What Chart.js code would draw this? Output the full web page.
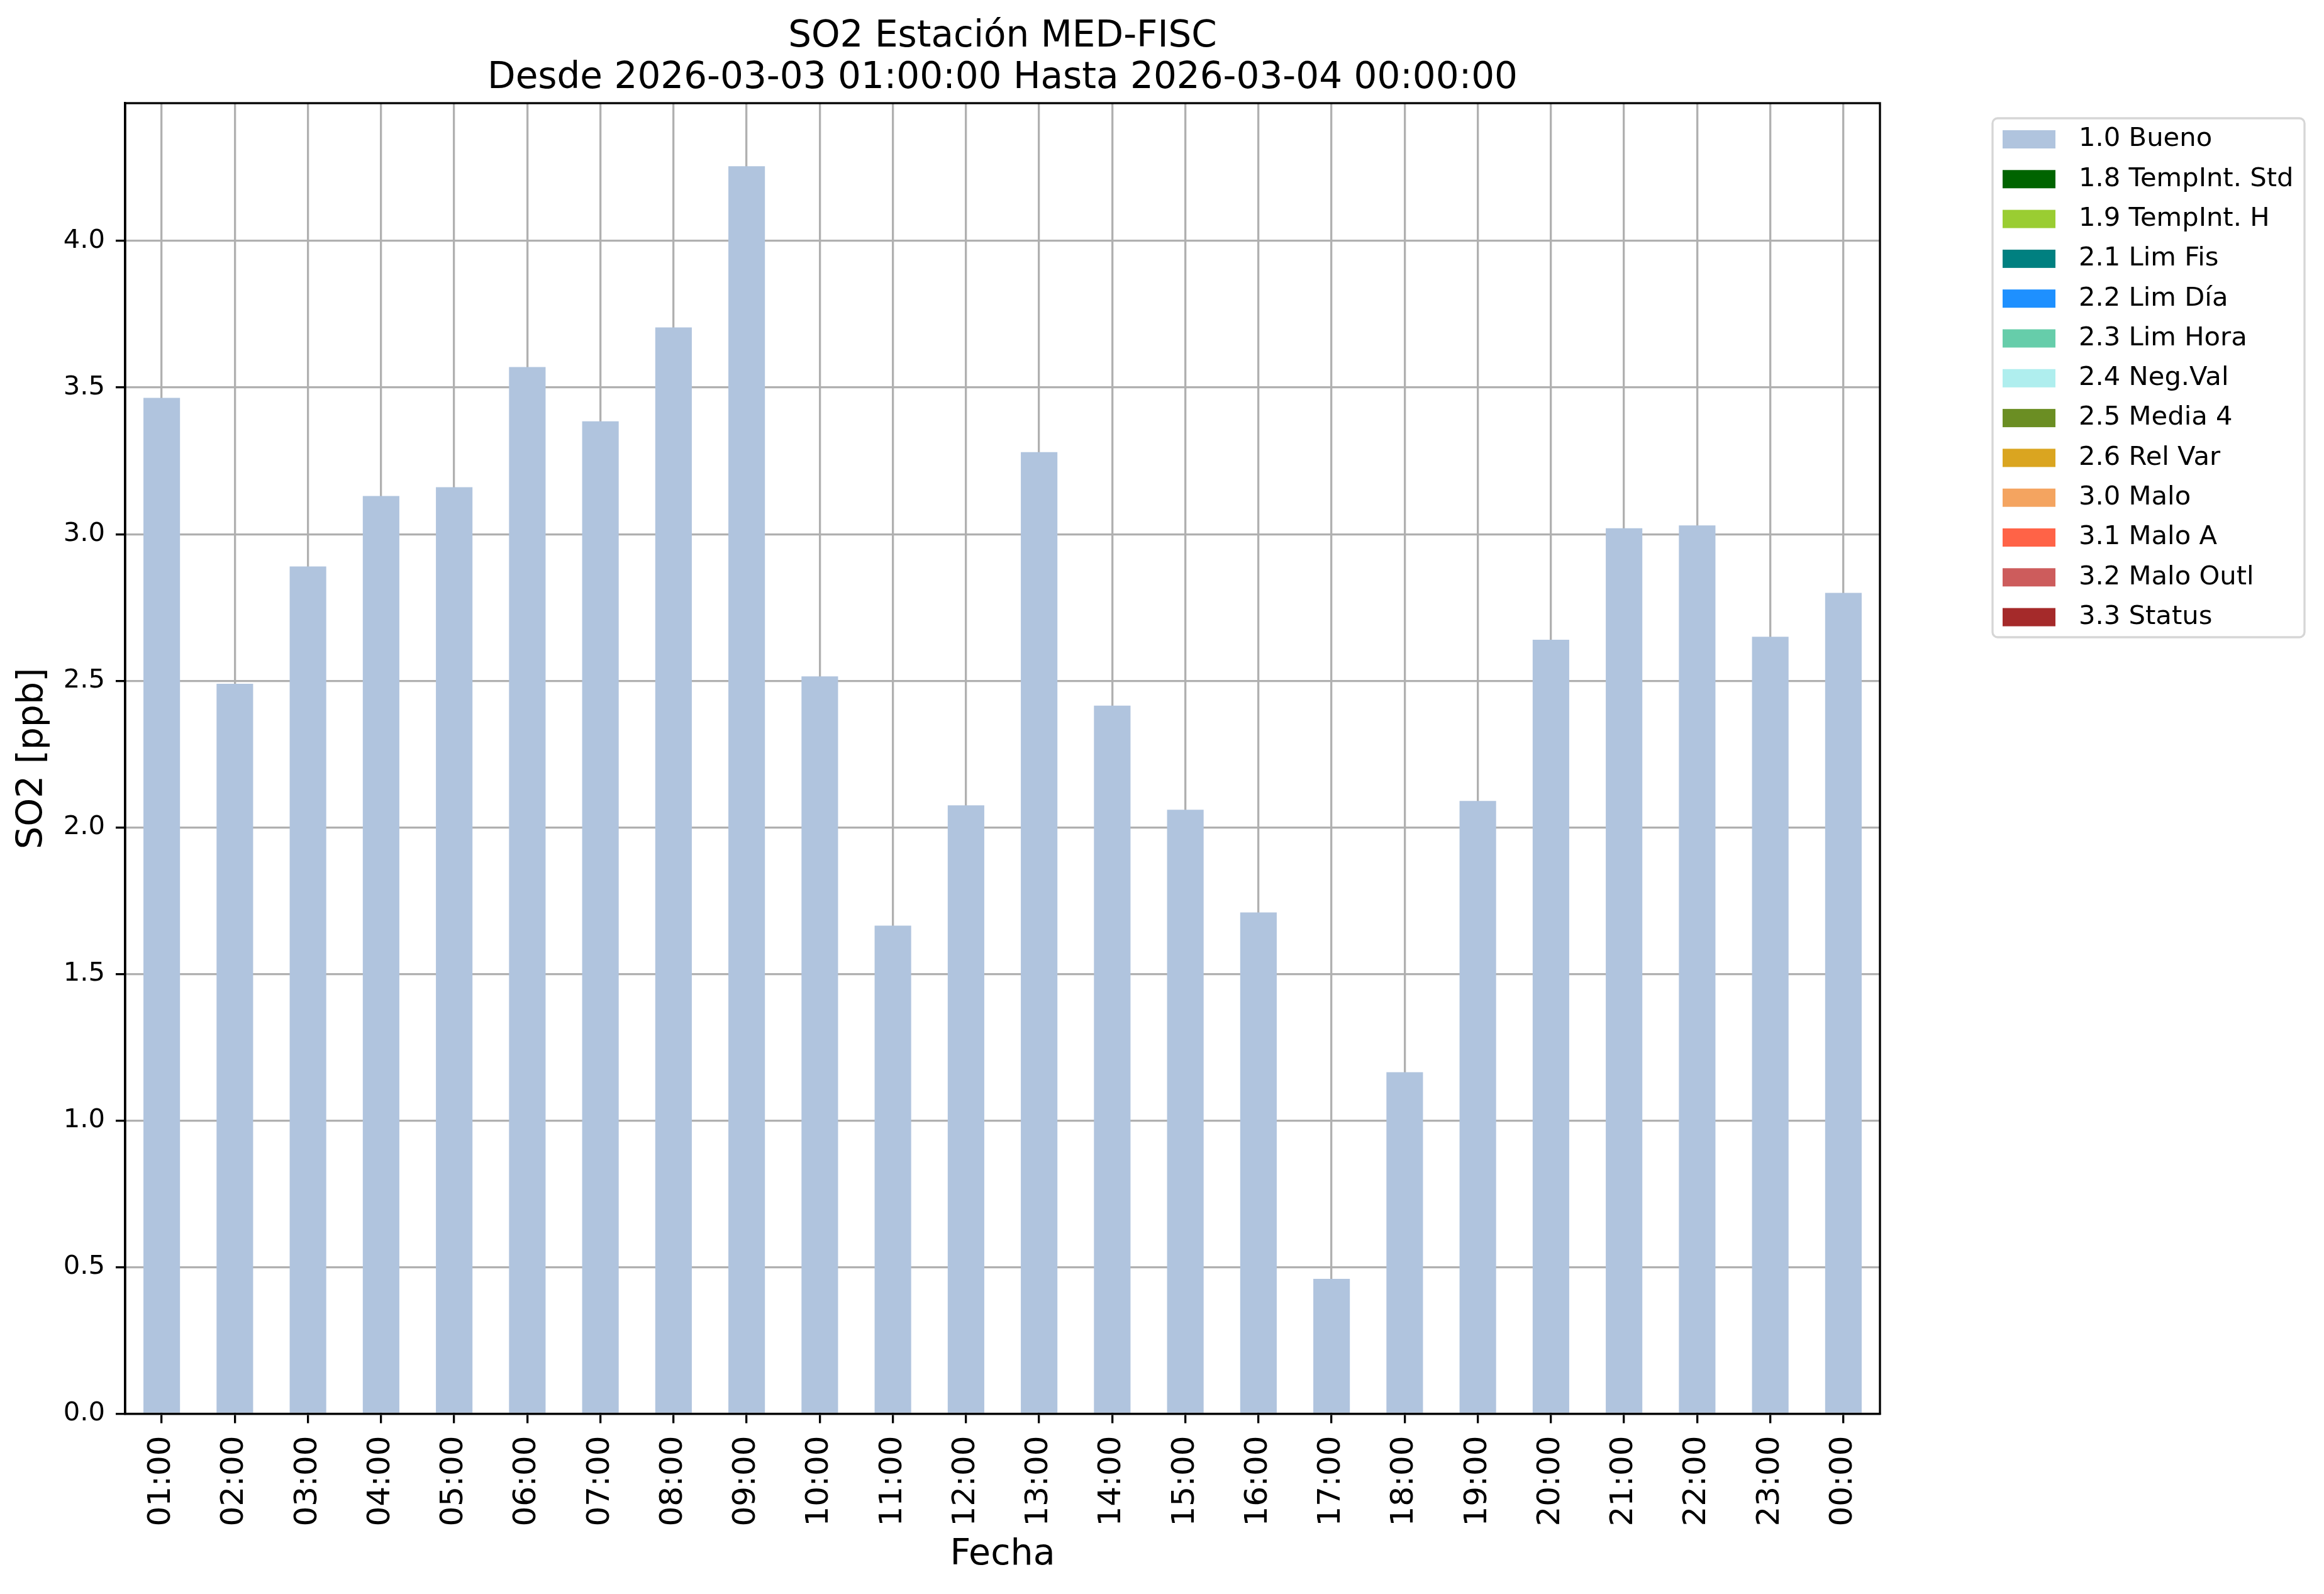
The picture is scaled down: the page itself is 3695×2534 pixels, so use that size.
<!DOCTYPE html>
<html>
<head>
<meta charset="utf-8">
<script src="https://cdn.jsdelivr.net/npm/chart.js@4"></script>
<style>
body{margin:0;background:#fff;}
canvas{display:block;}
</style>
</head>
<body>
<canvas id="so2Chart" width="3695" height="2534"></canvas>
<script>
// horas del dia (eje x)
const horas = ["01:00","02:00","03:00","04:00","05:00","06:00","07:00","08:00","09:00","10:00","11:00","12:00",
"13:00","14:00","15:00","16:00","17:00","18:00","19:00","20:00","21:00","22:00","23:00","00:00"];

// SO2 [ppb], flag 1.0 Bueno
const so2Bueno = [3.465,2.49,2.89,3.13,3.16,3.57,3.385,3.705,4.255,2.515,1.665,2.075,
3.28,2.415,2.06,1.71,0.46,1.165,2.09,2.64,3.02,3.03,2.65,2.80];

const flagLabels = ["1.0 Bueno","1.8 TempInt. Std","1.9 TempInt. H","2.1 Lim Fis","2.2 Lim Día","2.3 Lim Hora",
"2.4 Neg.Val","2.5 Media 4","2.6 Rel Var","3.0 Malo","3.1 Malo A","3.2 Malo Outl","3.3 Status"];
const flagColors = ["#b0c4de","#006400","#9acd32","#008080","#1e90ff","#66cdaa",
"#afeeee","#6b8e23","#daa520","#f4a460","#ff6347","#cd5c5c","#a52a2a"];

const yTicks = [0,0.5,1.0,1.5,2.0,2.5,3.0,3.5,4.0];
const titulo = ["SO2 Estación MED-FISC","Desde 2026-03-03 01:00:00 Hasta 2026-03-04 00:00:00"];

const FONT = "'DejaVu Sans', sans-serif";
Chart.defaults.font.family = FONT;
Chart.defaults.color = "#000";

const datasets = flagLabels.map((l,i)=>({
  label:l,
  data: i===0 ? so2Bueno : [],
  backgroundColor: flagColors[i],
  borderWidth:0,
  barPercentage:0.5,
  categoryPercentage:1.0
}));

// titulo, marco y leyenda al estilo matplotlib
const extras = {
  id:"extras",
  afterDraw(chart){
    const ctx = chart.ctx;
    const a = chart.chartArea;
    ctx.save();
    // marco
    ctx.strokeStyle = "#000";
    ctx.lineWidth = 3.3;
    ctx.strokeRect(a.left, a.top, a.right-a.left, a.bottom-a.top);

    // titulo
    ctx.fillStyle = "#000";
    ctx.font = "58px " + FONT;
    ctx.textAlign = "center";
    ctx.textBaseline = "alphabetic";
    const cx = (a.left+a.right)/2;
    ctx.fillText(titulo[0], cx, 74);
    ctx.fillText(titulo[1], cx, 140);

    // leyenda
    const bx = 3168, by = 188, bw = 496, bh = 825;
    ctx.beginPath();
    ctx.roundRect(bx, by, bw, bh, 8);
    ctx.fillStyle = "#fff";
    ctx.fill();
    ctx.strokeStyle = "#d6d6d6";
    ctx.lineWidth = 3.3;
    ctx.stroke();
    ctx.font = "41.7px " + FONT;
    ctx.textAlign = "left";
    ctx.textBaseline = "middle";
    chart.data.datasets.forEach((d,i)=>{
      const y = 221.5 + i*63.3;
      ctx.fillStyle = d.backgroundColor;
      ctx.fillRect(3184, y-14.5, 84, 29);
      ctx.fillStyle = "#000";
      ctx.fillText(d.label, 3305, y);
    });
    ctx.restore();
  }
};

new Chart(document.getElementById("so2Chart"),{
  type:"bar",
  data:{labels:horas, datasets:datasets},
  options:{
    responsive:false,
    animation:false,
    devicePixelRatio:1,
    layout:{padding:{top:164,right:706,left:0,bottom:0}},
    plugins:{legend:{display:false},title:{display:false},tooltip:{enabled:false}},
    scales:{
      x:{
        stacked:true,
        z:1,
        afterFit(s){ s.height = 286.5; },
        grid:{offset:false,color:"#b0b0b0",lineWidth:3.3,tickColor:"#000",tickWidth:3.3,tickLength:15},
        border:{color:"#000",width:3.3},
        ticks:{minRotation:90,maxRotation:90,padding:20,autoSkip:false,font:{size:50}},
        title:{display:true,text:"Fecha",font:{size:57},padding:{top:0,bottom:28}}
      },
      y:{
        stacked:true,
        z:1,
        min:0,
        max:4.47,
        afterFit(s){ s.width = 199; },
        afterBuildTicks(s){ s.ticks = yTicks.map(v=>({value:v})); },
        grid:{color:"#b0b0b0",lineWidth:3.3,tickColor:"#000",tickWidth:3.3,tickLength:15},
        border:{color:"#000",width:3.3},
        ticks:{padding:17,font:{size:41.7},callback:v=>Number(v).toFixed(1)},
        title:{display:true,text:"SO2 [ppb]",font:{size:57},padding:{top:18,bottom:0}}
      }
    }
  },
  plugins:[extras]
});
</script>
</body>
</html>
